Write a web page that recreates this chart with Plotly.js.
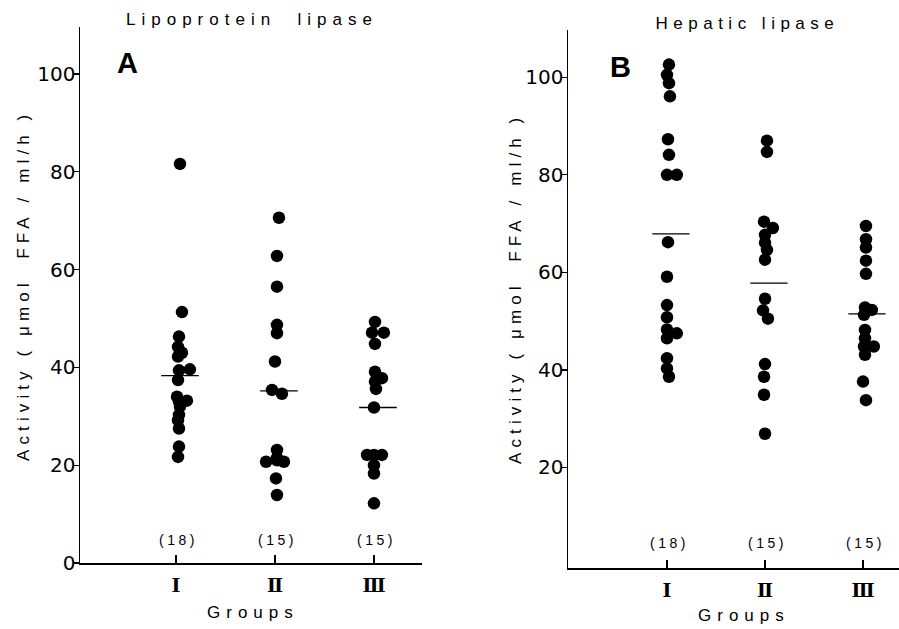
<!DOCTYPE html>
<html>
<head>
<meta charset="utf-8">
<script src="https://cdn.plot.ly/plotly-3.0.1.min.js"></script>
<style>html,body{margin:0;padding:0;background:#fff;}</style>
</head>
<body>
<div id="chart" style="width:899px;height:629px;"></div>
<script>
// ---------- data ----------
const groups = ["Ⅰ", "Ⅱ", "Ⅲ"];
const groupPos = [1, 2, 3];
const counts = [18, 15, 15];

// Panel A: lipoprotein lipase (µmol FFA/ml/h)
const lplI   = [81.6, 51.3, 46.3, 44.2, 43.0, 42.2, 39.6, 39.4, 37.4, 34.0, 33.2, 33.0, 32.0, 30.3, 29.2, 27.5, 23.8, 21.7];
const lplIJ  = [0.04, 0.06, 0.03, 0.02, 0.06, 0.02, 0.14, 0.03, 0.02, 0.01, 0.11, 0.03, 0.04, 0.03, 0.02, 0.03, 0.03, 0.02];
const lplII  = [70.6, 62.8, 56.5, 48.7, 47.0, 41.2, 35.4, 34.6, 23.1, 21.0, 21.5, 20.7, 20.7, 17.3, 13.9];
const lplIIJ = [0.04, 0.02, 0.02, 0.02, 0.02, 0.00, -0.03, 0.07, 0.02, 0.02, 0.02, -0.09, 0.09, 0.01, 0.02];
const lplIII = [49.3, 47.1, 47.1, 44.8, 39.1, 37.8, 37.1, 35.6, 31.8, 22.1, 22.1, 22.1, 20.0, 18.3, 12.2];
const lplIIIJ= [0.01, -0.02, 0.10, 0.01, 0.01, 0.08, 0.01, 0.02, 0.00, -0.07, 0.08, 0.00, 0.00, 0.00, 0.00];
const lplMeans = [38.3, 35.2, 31.8];

// Panel B: hepatic lipase (µmol FFA/ml/h)
const hlI    = [102.6, 100.5, 98.8, 96.1, 87.3, 84.1, 80.0, 80.0, 66.2, 59.1, 53.3, 50.8, 48.3, 47.5, 46.5, 42.4, 40.3, 38.6];
const hlIJ   = [0.02, 0.00, 0.02, 0.03, 0.01, 0.02, 0.00, 0.10, 0.01, 0.00, 0.00, 0.00, 0.00, 0.10, 0.00, 0.00, 0.00, 0.02];
const hlII   = [87.0, 84.7, 70.4, 69.1, 67.7, 66.1, 64.6, 62.6, 54.6, 52.2, 50.5, 41.2, 38.6, 34.9, 26.9];
const hlIIJ  = [0.02, 0.02, -0.01, 0.08, 0.00, 0.00, 0.02, 0.00, 0.00, -0.02, 0.03, 0.00, -0.01, -0.01, 0.00];
const hlIII  = [69.5, 66.8, 65.1, 62.4, 59.7, 52.8, 52.3, 51.3, 48.2, 46.5, 44.8, 44.8, 43.1, 37.6, 33.8];
const hlIIIJ = [0.03, 0.03, 0.03, 0.03, 0.03, 0.02, 0.09, 0.01, 0.02, 0.02, 0.11, 0.01, 0.02, 0.00, 0.03];
const hlMeans = [67.9, 57.8, 51.5];

const yTicksA = [0, 20, 40, 60, 80, 100];
const yTicksB = [20, 40, 60, 80, 100];

// ---------- build ----------
const W = 899, H = 629;
const px = v => v / W;
const py = v => 1 - v / H;

function dots(vals, jit, g, xa, ya) {
  return {
    type: 'scatter', mode: 'markers', xaxis: xa, yaxis: ya,
    x: vals.map((v, i) => groupPos[g] + jit[i]), y: vals,
    marker: {color: '#000', size: 12.5, line: {width: 0}},
    showlegend: false, hoverinfo: 'y'
  };
}
function meanLines(means, xa, ya) {
  const x = [], y = [];
  means.forEach((m, i) => { x.push(groupPos[i] - 0.15, groupPos[i] + 0.23, null); y.push(m, m, null); });
  return {type: 'scatter', mode: 'lines', xaxis: xa, yaxis: ya, x, y,
          line: {color: '#000', width: 1.3}, showlegend: false, hoverinfo: 'skip'};
}

const traces = [
  dots(lplI, lplIJ, 0, 'x', 'y'), dots(lplII, lplIIJ, 1, 'x', 'y'), dots(lplIII, lplIIIJ, 2, 'x', 'y'),
  meanLines(lplMeans, 'x', 'y'),
  dots(hlI, hlIJ, 0, 'x2', 'y2'), dots(hlII, hlIIJ, 1, 'x2', 'y2'), dots(hlIII, hlIIIJ, 2, 'x2', 'y2'),
  meanLines(hlMeans, 'x2', 'y2')
];

const tickFont = {family: 'DejaVu Sans', size: 20, color: '#000'};
const xTickFont = {family: 'DejaVu Serif', size: 19, color: '#000', weight: 'bold'};
const xCommon = {
  tickmode: 'array', tickvals: groupPos, ticktext: groups, ticks: 'inside', ticklen: 8,
  tickwidth: 1.3, tickcolor: '#000', showline: true, linecolor: '#000', linewidth: 1.5,
  showgrid: false, zeroline: false, tickfont: xTickFont, automargin: false, ticklabelstandoff: 5,
  fixedrange: true
};
const yCommon = {
  tickmode: 'array', ticks: 'outside', ticklen: 5, tickwidth: 1.3, tickcolor: '#000',
  showline: true, linecolor: '#000', linewidth: 1.5, showgrid: false, zeroline: false,
  tickfont: tickFont, automargin: false, ticklabelstandoff: -6, fixedrange: true
};

const ann = [];
const spacing = [];
function addAnn(a, ls) {
  ann.push(Object.assign({showarrow: false, xanchor: 'center', yanchor: 'middle',
    font: {family: 'Liberation Sans', size: 16, color: '#000'}}, a));
  spacing.push(ls);
}

addAnn({text: 'Lipoprotein\u00a0\u00a0lipase', xref: 'paper', yref: 'paper', x: px(252), y: py(20), font: {family: 'Liberation Sans', size: 17, color: '#000'}}, 6);
addAnn({text: 'Hepatic\u00a0lipase', xref: 'paper', yref: 'paper', x: px(747), y: py(24), font: {family: 'Liberation Sans', size: 17, color: '#000'}}, 5.5);
addAnn({text: 'A', xref: 'paper', yref: 'paper', x: px(127), y: py(63), font: {family: 'Liberation Sans', size: 29, color: '#000', weight: 'bold'}}, 0);
addAnn({text: 'B', xref: 'paper', yref: 'paper', x: px(620), y: py(67), font: {family: 'Liberation Sans', size: 29, color: '#000', weight: 'bold'}}, 0);
const yTitle = 'Activity\u00a0(\u00a0μmol\u00a0\u00a0FFA\u00a0/\u00a0ml/h\u00a0)';
addAnn({text: yTitle, xref: 'paper', yref: 'paper', x: px(23), y: py(286), textangle: -90, font: {family: 'Liberation Sans', size: 17, color: '#000'}}, 5.1);
addAnn({text: yTitle, xref: 'paper', yref: 'paper', x: px(515), y: py(289), textangle: -90, font: {family: 'Liberation Sans', size: 17, color: '#000'}}, 5.1);
addAnn({text: 'Groups', xref: 'paper', yref: 'paper', x: px(253), y: py(612), font: {family: 'Liberation Sans', size: 17, color: '#000'}}, 6);
addAnn({text: 'Groups', xref: 'paper', yref: 'paper', x: px(744), y: py(615), font: {family: 'Liberation Sans', size: 17, color: '#000'}}, 6);
counts.forEach((n, i) => {
  addAnn({text: '(' + n + ')', xref: 'x', yref: 'y', x: groupPos[i] + 0.03, y: 4.7, font: {family: 'Liberation Sans', size: 14, color: '#000'}}, 3.5);
  addAnn({text: '(' + n + ')', xref: 'x2', yref: 'y2', x: groupPos[i] + 0.03, y: 4.5, font: {family: 'Liberation Sans', size: 14, color: '#000'}}, 3.5);
});

const layout = {
  width: W, height: H, margin: {l: 0, r: 0, t: 0, b: 0},
  paper_bgcolor: '#fff', plot_bgcolor: '#fff', showlegend: false,
  xaxis: Object.assign({}, xCommon, {domain: [px(80), px(422)], range: [0.03, 3.485], anchor: 'y'}),
  yaxis: Object.assign({}, yCommon, {domain: [py(563), py(27)], range: [0, 109.6], tickvals: yTicksA, anchor: 'x'}),
  xaxis2: Object.assign({}, xCommon, {domain: [px(568), 1], range: [-0.01, 3.367], anchor: 'y2'}),
  yaxis2: Object.assign({}, yCommon, {domain: [py(568), py(30)], range: [-0.62, 109.7], tickvals: yTicksB, anchor: 'x2'}),
  annotations: ann
};

Plotly.newPlot('chart', traces, layout, {staticPlot: true, displayModeBar: false}).then(() => {
  document.querySelectorAll('g.annotation').forEach(g => {
    const i = +g.getAttribute('data-index');
    const t = g.querySelector('text');
    if (t && spacing[i]) t.style.letterSpacing = spacing[i] + 'px';
  });
});
</script>
</body>
</html>
